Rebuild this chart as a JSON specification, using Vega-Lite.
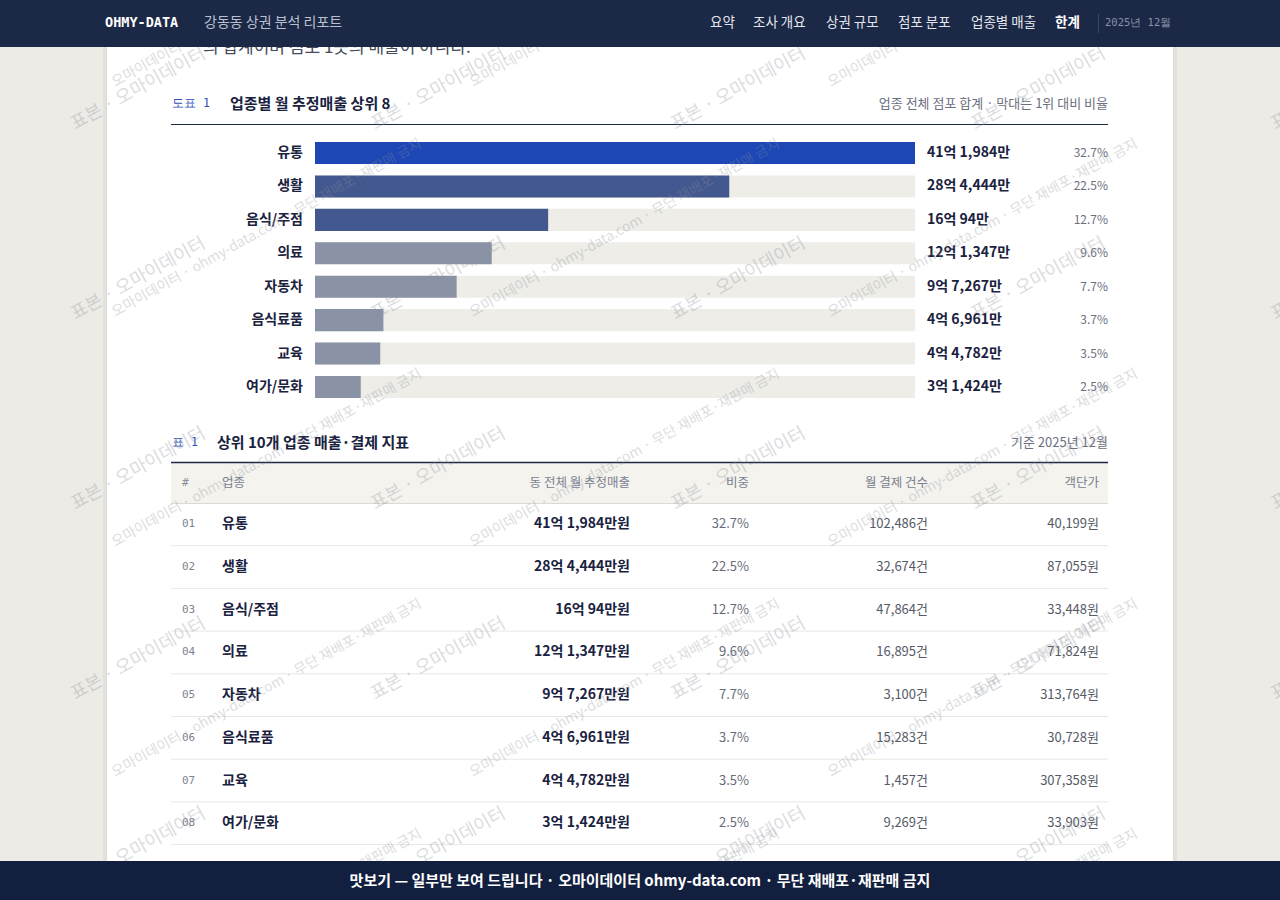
{
  "$schema": "https://vega.github.io/schema/vega-lite/v6.json",
  "width": 1280,
  "height": 900,
  "padding": 0,
  "autosize": {"type": "none"},
  "background": "#edebe6",
  "config": {
    "view": {"stroke": null},
    "font": "Noto Sans CJK KR",
    "text": {"font": "Noto Sans CJK KR"}
  },
  "datasets": {
    "page": [{"report": "강동동 상권 분석 리포트"}],
    "top8": [
      {"rank": 1, "cat": "유통", "sales": 411984, "sales_text": "41억 1,984만", "sales_won": "41억 1,984만원", "share": 0.327, "count": "102,486건", "unit": "40,199원"},
      {"rank": 2, "cat": "생활", "sales": 284444, "sales_text": "28억 4,444만", "sales_won": "28억 4,444만원", "share": 0.225, "count": "32,674건", "unit": "87,055원"},
      {"rank": 3, "cat": "음식/주점", "sales": 160094, "sales_text": "16억 94만", "sales_won": "16억 94만원", "share": 0.127, "count": "47,864건", "unit": "33,448원"},
      {"rank": 4, "cat": "의료", "sales": 121347, "sales_text": "12억 1,347만", "sales_won": "12억 1,347만원", "share": 0.096, "count": "16,895건", "unit": "71,824원"},
      {"rank": 5, "cat": "자동차", "sales": 97267, "sales_text": "9억 7,267만", "sales_won": "9억 7,267만원", "share": 0.077, "count": "3,100건", "unit": "313,764원"},
      {"rank": 6, "cat": "음식료품", "sales": 46961, "sales_text": "4억 6,961만", "sales_won": "4억 6,961만원", "share": 0.037, "count": "15,283건", "unit": "30,728원"},
      {"rank": 7, "cat": "교육", "sales": 44782, "sales_text": "4억 4,782만", "sales_won": "4억 4,782만원", "share": 0.035, "count": "1,457건", "unit": "307,358원"},
      {"rank": 8, "cat": "여가/문화", "sales": 31424, "sales_text": "3억 1,424만", "sales_won": "3억 1,424만원", "share": 0.025, "count": "9,269건", "unit": "33,903원"}
    ],
    "wm_big": [
      {"c": 0, "r": 0}, {"c": 1, "r": 0}, {"c": 2, "r": 0}, {"c": 3, "r": 0}, {"c": 4, "r": 0},
      {"c": 0, "r": 1}, {"c": 1, "r": 1}, {"c": 2, "r": 1}, {"c": 3, "r": 1}, {"c": 4, "r": 1},
      {"c": 0, "r": 2}, {"c": 1, "r": 2}, {"c": 2, "r": 2}, {"c": 3, "r": 2}, {"c": 4, "r": 2},
      {"c": 0, "r": 3}, {"c": 1, "r": 3}, {"c": 2, "r": 3}, {"c": 3, "r": 3}, {"c": 4, "r": 3},
      {"c": 0, "r": 4}, {"c": 1, "r": 4}, {"c": 2, "r": 4}, {"c": 3, "r": 4}, {"c": 4, "r": 4}
    ],
    "wm_small": [
      {"c": 0, "r": 0}, {"c": 1, "r": 0}, {"c": 2, "r": 0},
      {"c": 0, "r": 1}, {"c": 1, "r": 1}, {"c": 2, "r": 1},
      {"c": 0, "r": 2}, {"c": 1, "r": 2}, {"c": 2, "r": 2},
      {"c": 0, "r": 3}, {"c": 1, "r": 3}, {"c": 2, "r": 3},
      {"c": 0, "r": 4}, {"c": 1, "r": 4}, {"c": 2, "r": 4}
    ]
  },
  "resolve": {"scale": {"x": "independent", "y": "independent"}},
  "layer": [
    {
      "data": {"name": "page"},
      "layer": [
        {"mark": {"type": "rect", "color": "#e4e2dc"}, "encoding": {"x": {"value": 103}, "x2": {"value": 1177}, "y": {"value": 0}, "y2": {"value": 900}}},
        {"mark": {"type": "rect", "color": "#dedcd5"}, "encoding": {"x": {"value": 105.5}, "x2": {"value": 1174.5}, "y": {"value": 0}, "y2": {"value": 900}}},
        {"mark": {"type": "rect", "color": "#ffffff"}, "encoding": {"x": {"value": 107}, "x2": {"value": 1173}, "y": {"value": 0}, "y2": {"value": 900}}},
        {"mark": {"type": "text", "align": "left", "baseline": "alphabetic", "fontSize": 17, "color": "#454b59", "text": "의 합계이며 점포 1곳의 매출이 아니다."}, "encoding": {"x": {"value": 203}, "y": {"value": 53}}},
        {"mark": {"type": "text", "align": "left", "font": "DejaVu Sans Mono", "fontSize": 11.5, "color": "#2d50b8", "text": "도표 1"}, "encoding": {"x": {"value": 172}, "y": {"value": 104}}},
        {"mark": {"type": "text", "align": "left", "fontSize": 15, "fontWeight": "bold", "color": "#1a2240", "text": "업종별 월 추정매출 상위 8"}, "encoding": {"x": {"value": 230}, "y": {"value": 104}}},
        {"mark": {"type": "text", "align": "right", "fontSize": 13, "color": "#6b7080", "text": "업종 전체 점포 합계 · 막대는 1위 대비 비율"}, "encoding": {"x": {"value": 1108}, "y": {"value": 104}}},
        {"mark": {"type": "rule", "color": "#1b2846", "strokeWidth": 1.2}, "encoding": {"x": {"value": 171}, "x2": {"value": 1108}, "y": {"value": 124.5}}},
        {"mark": {"type": "text", "align": "left", "font": "DejaVu Sans Mono", "fontSize": 11.5, "color": "#2d50b8", "text": "표  1"}, "encoding": {"x": {"value": 172}, "y": {"value": 443}}},
        {"mark": {"type": "text", "align": "left", "fontSize": 15, "fontWeight": "bold", "color": "#1a2240", "text": "상위 10개 업종 매출·결제 지표"}, "encoding": {"x": {"value": 217}, "y": {"value": 443}}},
        {"mark": {"type": "text", "align": "right", "fontSize": 13, "color": "#6b7080", "text": "기준 2025년 12월"}, "encoding": {"x": {"value": 1108}, "y": {"value": 443}}},
        {"mark": {"type": "rect", "color": "#f4f3ee"}, "encoding": {"x": {"value": 171}, "x2": {"value": 1108}, "y": {"value": 463}, "y2": {"value": 503}}},
        {"mark": {"type": "rule", "color": "#1b2846", "strokeWidth": 1.5}, "encoding": {"x": {"value": 171}, "x2": {"value": 1108}, "y": {"value": 462.5}}},
        {"mark": {"type": "rule", "color": "#dcdad2", "strokeWidth": 1}, "encoding": {"x": {"value": 171}, "x2": {"value": 1108}, "y": {"value": 503.5}}},
        {"mark": {"type": "text", "align": "left", "font": "DejaVu Sans Mono", "fontSize": 11, "color": "#8a8f9c", "text": "#"}, "encoding": {"x": {"value": 182}, "y": {"value": 483}}},
        {"mark": {"type": "text", "align": "left", "fontSize": 12.5, "color": "#7a8090", "text": "업종"}, "encoding": {"x": {"value": 222}, "y": {"value": 483}}},
        {"mark": {"type": "text", "align": "right", "fontSize": 12.5, "color": "#7a8090", "text": "동 전체 월 추정매출"}, "encoding": {"x": {"value": 630}, "y": {"value": 483}}},
        {"mark": {"type": "text", "align": "right", "fontSize": 12.5, "color": "#7a8090", "text": "비중"}, "encoding": {"x": {"value": 749}, "y": {"value": 483}}},
        {"mark": {"type": "text", "align": "right", "fontSize": 12.5, "color": "#7a8090", "text": "월 결제 건수"}, "encoding": {"x": {"value": 928}, "y": {"value": 483}}},
        {"mark": {"type": "text", "align": "right", "fontSize": 12.5, "color": "#7a8090", "text": "객단가"}, "encoding": {"x": {"value": 1099}, "y": {"value": 483}}}
      ]
    },
    {
      "data": {"name": "top8"},
      "transform": [{"joinaggregate": [{"op": "max", "field": "sales", "as": "maxv"}]}],
      "layer": [
        {
          "mark": {"type": "bar", "color": "#eeede8"},
          "encoding": {
            "x": {"field": "maxv", "type": "quantitative", "axis": null, "scale": {"domain": [0, 411984], "range": [315, 915], "nice": false, "zero": false}},
            "y": {"field": "rank", "type": "ordinal", "axis": null, "scale": {"type": "band", "domain": [1, 2, 3, 4, 5, 6, 7, 8], "range": [136.3, 403.7], "paddingInner": 0.34, "paddingOuter": 0.17}}
          }
        },
        {
          "mark": {"type": "bar"},
          "encoding": {
            "x": {"field": "sales", "type": "quantitative", "axis": null, "scale": {"domain": [0, 411984], "range": [315, 915], "nice": false, "zero": false}},
            "y": {"field": "rank", "type": "ordinal", "axis": null, "scale": {"type": "band", "domain": [1, 2, 3, 4, 5, 6, 7, 8], "range": [136.3, 403.7], "paddingInner": 0.34, "paddingOuter": 0.17}},
            "color": {"field": "rank", "type": "quantitative", "legend": null, "scale": {"type": "threshold", "domain": [2, 4], "range": ["#1c47b5", "#43588f", "#8a92a6"]}}
          }
        },
        {
          "mark": {"type": "text", "align": "right", "dx": -12, "fontSize": 14, "fontWeight": "bold", "color": "#1a2240"},
          "encoding": {
            "x": {"datum": 0, "type": "quantitative", "axis": null, "scale": {"domain": [0, 411984], "range": [315, 915], "nice": false, "zero": false}},
            "y": {"field": "rank", "type": "ordinal", "axis": null, "scale": {"type": "band", "domain": [1, 2, 3, 4, 5, 6, 7, 8], "range": [136.3, 403.7], "paddingInner": 0.34, "paddingOuter": 0.17}},
            "text": {"field": "cat"}
          }
        },
        {
          "mark": {"type": "text", "align": "left", "dx": 12, "fontSize": 14, "fontWeight": "bold", "color": "#1a2240"},
          "encoding": {
            "x": {"field": "maxv", "type": "quantitative", "axis": null, "scale": {"domain": [0, 411984], "range": [315, 915], "nice": false, "zero": false}},
            "y": {"field": "rank", "type": "ordinal", "axis": null, "scale": {"type": "band", "domain": [1, 2, 3, 4, 5, 6, 7, 8], "range": [136.3, 403.7], "paddingInner": 0.34, "paddingOuter": 0.17}},
            "text": {"field": "sales_text"}
          }
        },
        {
          "mark": {"type": "text", "align": "right", "dx": 193, "fontSize": 12, "color": "#6b7080"},
          "encoding": {
            "x": {"field": "maxv", "type": "quantitative", "axis": null, "scale": {"domain": [0, 411984], "range": [315, 915], "nice": false, "zero": false}},
            "y": {"field": "rank", "type": "ordinal", "axis": null, "scale": {"type": "band", "domain": [1, 2, 3, 4, 5, 6, 7, 8], "range": [136.3, 403.7], "paddingInner": 0.34, "paddingOuter": 0.17}},
            "text": {"field": "share", "format": ".1%"}
          }
        }
      ]
    },
    {
      "data": {"name": "top8"},
      "layer": [
        {
          "mark": {"type": "rule", "color": "#e9e7e1", "strokeWidth": 1},
          "encoding": {
            "x": {"value": 171}, "x2": {"value": 1108},
            "y": {"field": "rank", "type": "ordinal", "axis": null, "bandPosition": 1, "scale": {"type": "band", "domain": [1, 2, 3, 4, 5, 6, 7, 8], "range": [503, 844.6], "paddingInner": 0, "paddingOuter": 0}}
          }
        },
        {
          "mark": {"type": "text", "align": "left", "font": "DejaVu Sans Mono", "fontSize": 11, "color": "#7d8290"},
          "encoding": {
            "x": {"value": 182},
            "y": {"field": "rank", "type": "ordinal", "axis": null, "scale": {"type": "band", "domain": [1, 2, 3, 4, 5, 6, 7, 8], "range": [503, 844.6], "paddingInner": 0, "paddingOuter": 0}},
            "text": {"field": "rank", "format": "02d"}
          }
        },
        {
          "mark": {"type": "text", "align": "left", "fontSize": 14, "fontWeight": "bold", "color": "#1a2240"},
          "encoding": {
            "x": {"value": 222},
            "y": {"field": "rank", "type": "ordinal", "axis": null, "scale": {"type": "band", "domain": [1, 2, 3, 4, 5, 6, 7, 8], "range": [503, 844.6], "paddingInner": 0, "paddingOuter": 0}},
            "text": {"field": "cat"}
          }
        },
        {
          "mark": {"type": "text", "align": "right", "fontSize": 14, "fontWeight": "bold", "color": "#1a2240"},
          "encoding": {
            "x": {"value": 630},
            "y": {"field": "rank", "type": "ordinal", "axis": null, "scale": {"type": "band", "domain": [1, 2, 3, 4, 5, 6, 7, 8], "range": [503, 844.6], "paddingInner": 0, "paddingOuter": 0}},
            "text": {"field": "sales_won"}
          }
        },
        {
          "mark": {"type": "text", "align": "right", "fontSize": 13, "color": "#666b78"},
          "encoding": {
            "x": {"value": 749},
            "y": {"field": "rank", "type": "ordinal", "axis": null, "scale": {"type": "band", "domain": [1, 2, 3, 4, 5, 6, 7, 8], "range": [503, 844.6], "paddingInner": 0, "paddingOuter": 0}},
            "text": {"field": "share", "format": ".1%"}
          }
        },
        {
          "mark": {"type": "text", "align": "right", "fontSize": 13, "color": "#555a66"},
          "encoding": {
            "x": {"value": 928},
            "y": {"field": "rank", "type": "ordinal", "axis": null, "scale": {"type": "band", "domain": [1, 2, 3, 4, 5, 6, 7, 8], "range": [503, 844.6], "paddingInner": 0, "paddingOuter": 0}},
            "text": {"field": "count"}
          }
        },
        {
          "mark": {"type": "text", "align": "right", "fontSize": 13, "color": "#555a66"},
          "encoding": {
            "x": {"value": 1099},
            "y": {"field": "rank", "type": "ordinal", "axis": null, "scale": {"type": "band", "domain": [1, 2, 3, 4, 5, 6, 7, 8], "range": [503, 844.6], "paddingInner": 0, "paddingOuter": 0}},
            "text": {"field": "unit"}
          }
        }
      ]
    },
    {
      "data": {"name": "wm_big"},
      "mark": {"type": "text", "angle": -29, "align": "left", "baseline": "alphabetic", "fontSize": 18, "color": "#8c8f99", "opacity": 0.3, "text": "표본 · 오마이데이터"},
      "encoding": {
        "x": {"field": "c", "type": "quantitative", "axis": null, "scale": {"domain": [0, 4], "range": [75, 1275], "nice": false, "zero": false}},
        "y": {"field": "r", "type": "quantitative", "axis": null, "scale": {"domain": [0, 4], "range": [130, 890], "nice": false, "zero": false}}
      }
    },
    {
      "data": {"name": "wm_small"},
      "mark": {"type": "text", "angle": -29, "align": "left", "baseline": "alphabetic", "fontSize": 14, "color": "#8c8f99", "opacity": 0.3, "text": "오마이데이터 · ohmy-data.com · 무단 재배포·재판매 금지"},
      "encoding": {
        "x": {"field": "c", "type": "quantitative", "axis": null, "scale": {"domain": [0, 2], "range": [115, 831], "nice": false, "zero": false}},
        "y": {"field": "r", "type": "quantitative", "axis": null, "scale": {"domain": [0, 3], "range": [87, 777], "nice": false, "zero": false}}
      }
    },
    {
      "data": {"name": "page"},
      "layer": [
        {"mark": {"type": "rect", "color": "#1b2846"}, "encoding": {"x": {"value": 0}, "x2": {"value": 1280}, "y": {"value": 0}, "y2": {"value": 47}}},
        {"mark": {"type": "text", "align": "left", "font": "DejaVu Sans Mono", "fontSize": 13.5, "fontWeight": "bold", "color": "#ffffff", "text": "OHMY-DATA"}, "encoding": {"x": {"value": 105}, "y": {"value": 23}}},
        {"mark": {"type": "text", "align": "left", "fontSize": 14, "color": "#b9c0cf"}, "encoding": {"x": {"value": 204}, "y": {"value": 23}, "text": {"field": "report"}}},
        {"mark": {"type": "text", "align": "left", "fontSize": 13.5, "color": "#e3e6ee", "text": "요약"}, "encoding": {"x": {"value": 710}, "y": {"value": 23}}},
        {"mark": {"type": "text", "align": "left", "fontSize": 13.5, "color": "#e3e6ee", "text": "조사 개요"}, "encoding": {"x": {"value": 753}, "y": {"value": 23}}},
        {"mark": {"type": "text", "align": "left", "fontSize": 13.5, "color": "#e3e6ee", "text": "상권 규모"}, "encoding": {"x": {"value": 826}, "y": {"value": 23}}},
        {"mark": {"type": "text", "align": "left", "fontSize": 13.5, "color": "#e3e6ee", "text": "점포 분포"}, "encoding": {"x": {"value": 898}, "y": {"value": 23}}},
        {"mark": {"type": "text", "align": "left", "fontSize": 13.5, "color": "#e3e6ee", "text": "업종별 매출"}, "encoding": {"x": {"value": 971}, "y": {"value": 23}}},
        {"mark": {"type": "text", "align": "left", "fontSize": 13.5, "fontWeight": "bold", "color": "#ffffff", "text": "한계"}, "encoding": {"x": {"value": 1055}, "y": {"value": 23}}},
        {"mark": {"type": "rule", "color": "#3a4768", "strokeWidth": 1}, "encoding": {"x": {"value": 1098.5}, "y": {"value": 14}, "y2": {"value": 33}}},
        {"mark": {"type": "text", "align": "left", "font": "DejaVu Sans Mono", "fontSize": 10.5, "color": "#8a93a8", "text": "2025년 12월"}, "encoding": {"x": {"value": 1105}, "y": {"value": 23}}},
        {"mark": {"type": "rect", "color": "#131f3e"}, "encoding": {"x": {"value": 0}, "x2": {"value": 1280}, "y": {"value": 861}, "y2": {"value": 900}}},
        {"mark": {"type": "text", "align": "center", "fontSize": 15, "fontWeight": "bold", "color": "#ffffff", "text": "맛보기 — 일부만 보여 드립니다 · 오마이데이터 ohmy-data.com · 무단 재배포·재판매 금지"}, "encoding": {"x": {"value": 640}, "y": {"value": 881}}}
      ]
    }
  ]
}
